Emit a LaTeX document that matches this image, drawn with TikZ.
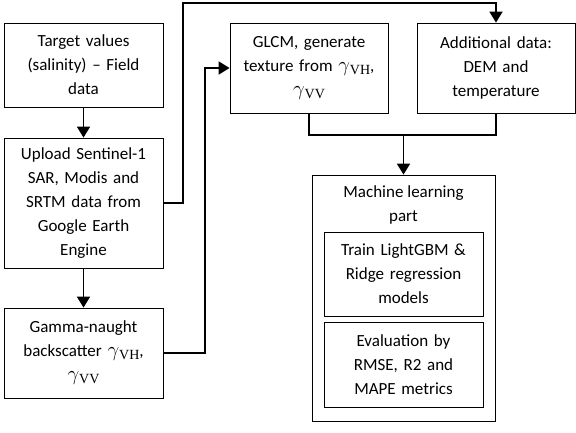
\documentclass[tikz,border=0pt]{standalone}
\usepackage{fontspec}
\setmainfont{Carlito}
\newfontfamily\libserif{Liberation Serif}
\newcommand\gsub[1]{{\fontsize{20}{24}\selectfont$\gamma$}\raisebox{-3pt}{\fontsize{14}{14}\selectfont\libserif #1}}
\usetikzlibrary{arrows.meta}
\begin{document}
\begin{tikzpicture}[x=1pt,y=-1pt,
  box/.style={draw, line width=0.8pt, inner sep=0pt, align=center,
    font=\fontsize{17}{24}\selectfont},
  conn/.style={line width=1.8pt},
  arr/.style={conn, -{Triangle[width=13pt,length=11pt]}}]
\fill[white] (0,0) rectangle (576,432);
\useasboundingbox (0,0) rectangle (576,432);
\node[box, minimum width=159pt, minimum height=84pt, text width=155pt] (tv) at (83.5,65)
  {Target values\\(salinity) -- Field\\data};
\node[box, minimum width=159pt, minimum height=130pt, text width=155pt] (up) at (83.5,203)
  {Upload Sentinel-1\\SAR, Modis and\\SRTM data from\\Google Earth\\Engine};
\node[box, minimum width=159pt, minimum height=90pt, text width=155pt] (gm) at (83.5,353)
  {Gamma-naught\\backscatter \gsub{VH},\\\gsub{VV}};
\node[box, minimum width=158pt, minimum height=90pt, text width=154pt] (gl) at (309,68)
  {GLCM, generate\\texture from \gsub{VH},\\\gsub{VV}};
\node[box, minimum width=158pt, minimum height=90pt, text width=154pt] (ad) at (496,68)
  {Additional data:\\DEM and\\temperature};
\node[box, minimum width=183pt, minimum height=246pt] (ml) at (403.5,298) {};
\node[inner sep=0pt, align=center, font=\fontsize{17}{24}\selectfont] (mlt) at (403.5,205)
  {Machine learning\\part};
\node[box, minimum width=159pt, minimum height=84pt, text width=155pt] (tr) at (403.5,274)
  {Train LightGBM \&\\Ridge regression\\models};
\node[box, minimum width=159pt, minimum height=85pt, text width=155pt] (ev) at (403.5,364.5)
  {Evaluation by\\RMSE, R2 and\\MAPE metrics};
\coordinate (c1) at (183,3);
\coordinate (c2) at (205,68);
\coordinate (m) at (403.5,135);
\draw[arr] (tv) -- (up);
\draw[arr] (up) -- (gm);
\draw[arr] (up.east) -| (c1) -| (ad.north);
\draw[arr] (gm.east) -| (c2) -- (gl.west);
\draw[conn] (gl.south) |- (m) -| (ad.south);
\draw[arr] (m) -- (ml.north);
\end{tikzpicture}
\end{document}
